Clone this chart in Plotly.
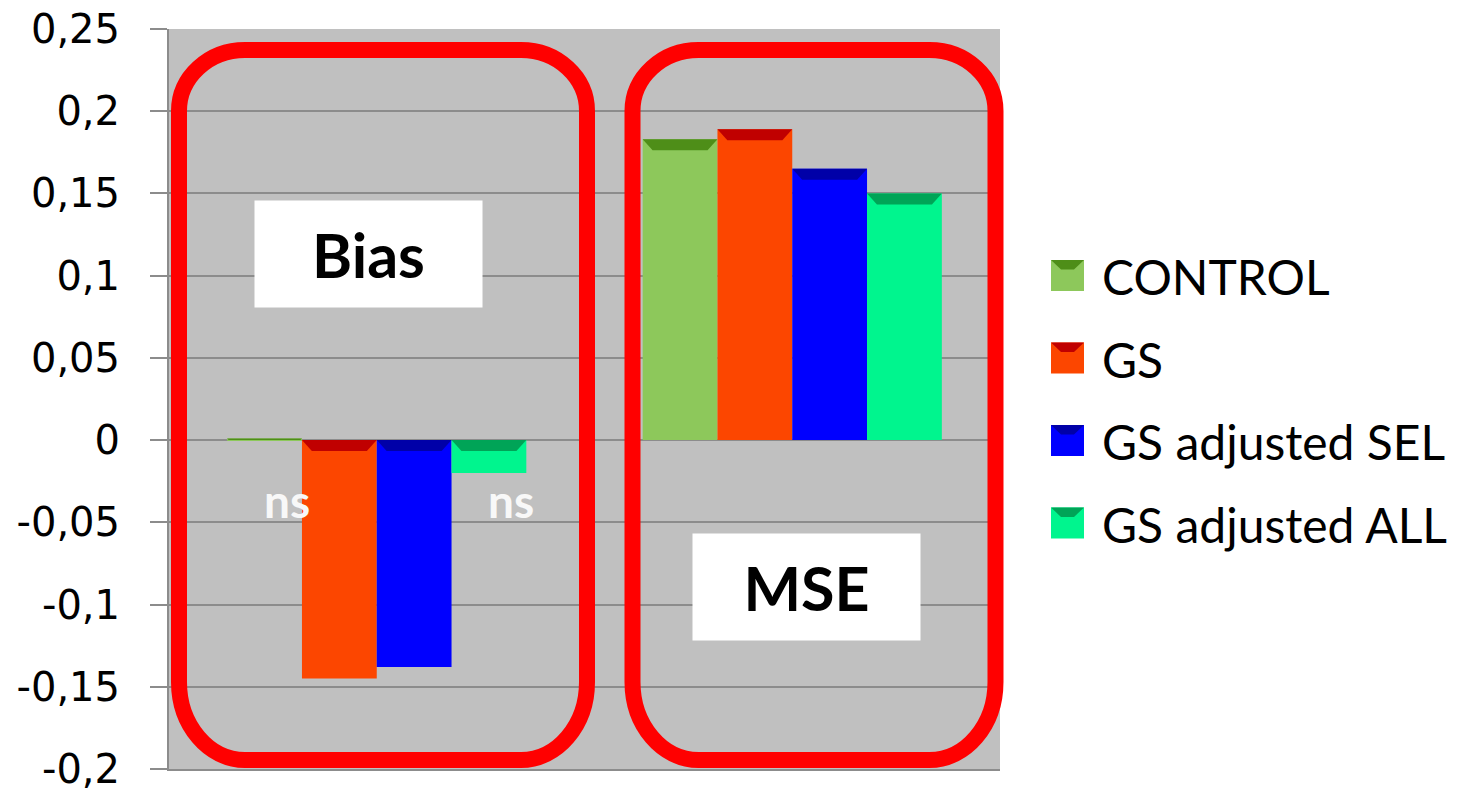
import plotly.graph_objects as go

# ---- data -------------------------------------------------------------
groups = ["Bias", "MSE"]
series_names = ["CONTROL", "GS", "GS adjusted SEL", "GS adjusted ALL"]
control_vals = [0.001, 0.183]
gs_vals = [-0.145, 0.189]
sel_vals = [-0.138, 0.165]
all_vals = [-0.020, 0.150]
ns_flags = [True, False, False, True]          # "ns" shown under Bias bars

tick_values = [0.25, 0.2, 0.15, 0.1, 0.05, 0, -0.05, -0.1, -0.15, -0.2]
tick_labels = ["0,25", "0,2", "0,15", "0,1", "0,05", "0", "-0,05", "-0,1", "-0,15", "-0,2"]

# ---- styling ----------------------------------------------------------
fill_colors = ["#8DC85B", "#FC4600", "#0000FF", "#00F58E"]
bevel_colors = ["#4E8E18", "#C00000", "#0000A8", "#00A457"]

W, H = 1484, 792
L, R, T, B = 169, 1000, 29, 769           # plot area in pixels
Y0, Y1 = -0.2, 0.25
X0, X1 = -0.5, 1.5
BARGAP = 0.28

series_vals = [control_vals, gs_vals, sel_vals, all_vals]
x_pos = list(range(len(groups)))


def px_x(px):
    return (px - L) / (R - L)


def px_y(py):
    return (B - py) / (B - T)


fig = go.Figure()
for name, vals, col in zip(series_names, series_vals, fill_colors):
    fig.add_trace(go.Bar(x=x_pos, y=vals, name=name, marker_color=col,
                         marker_line_width=0, showlegend=False))

shapes = []

# darker bevel strip along the upper edge of every bar
n = len(series_names)
bar_w = (1 - BARGAP) / n
band = 11 * (Y1 - Y0) / (B - T)
inset = 10 * (X1 - X0) / (R - L)
for i, (vals, dark) in enumerate(zip(series_vals, bevel_colors)):
    for g, v in zip(x_pos, vals):
        xa = g - (1 - BARGAP) / 2 + i * bar_w
        xb = xa + bar_w
        top = max(v, 0)
        h = min(band, abs(v))
        d = min(inset, h * 0.9 * (X1 - X0) / (R - L) * (B - T) / (Y1 - Y0))
        path = (f"M{xa},{top} L{xb},{top} L{xb - d},{top - h} "
                f"L{xa + d},{top - h} Z")
        shapes.append(dict(type="path", xref="x", yref="y", path=path,
                           fillcolor=dark, line_width=0, layer="above"))


def rounded_box(l, t, r, b, rxt, ryt, rxb, ryb):
    k = 0.5523
    pts = []

    def p(x, y):
        return f"{px_x(x):.5f},{px_y(y):.5f}"

    pts.append(f"M{p(l + rxt, t)}")
    pts.append(f"L{p(r - rxt, t)}")
    pts.append(f"C{p(r - rxt + k * rxt, t)} {p(r, t + ryt - k * ryt)} {p(r, t + ryt)}")
    pts.append(f"L{p(r, b - ryb)}")
    pts.append(f"C{p(r, b - ryb + k * ryb)} {p(r - rxb + k * rxb, b)} {p(r - rxb, b)}")
    pts.append(f"L{p(l + rxb, b)}")
    pts.append(f"C{p(l + rxb - k * rxb, b)} {p(l, b - ryb + k * ryb)} {p(l, b - ryb)}")
    pts.append(f"L{p(l, t + ryt)}")
    pts.append(f"C{p(l, t + ryt - k * ryt)} {p(l + rxt - k * rxt, t)} {p(l + rxt, t)}")
    pts.append("Z")
    return " ".join(pts)


for box in [(179, 50, 587, 760), (632.5, 50, 995.5, 760)]:
    shapes.append(dict(type="path", xref="paper", yref="paper",
                       path=rounded_box(*box, 66, 61, 66, 78),
                       line=dict(color="#FF0000", width=16), layer="above"))

annotations = []

# group captions in white boxes
for text, cx, cy in [("Bias", 368.5, 254), ("MSE", 806.5, 587)]:
    annotations.append(dict(text=f"<b>{text}</b>", xref="paper", yref="paper",
                            x=px_x(cx), y=px_y(cy), xanchor="center", yanchor="middle",
                            showarrow=False, bgcolor="white", width=227, height=106,
                            borderpad=0, font=dict(family="Lato", size=61, color="black")))

# "ns" markers below the non-significant Bias bars
for i, flag in enumerate(ns_flags):
    if flag:
        cx = x_pos[0] - (1 - BARGAP) / 2 + (i + 0.5) * bar_w
        annotations.append(dict(text="<b>ns</b>", x=cx, y=-0.037, xref="x", yref="y",
                                xshift=22, showarrow=False,
                                font=dict(family="Lato", size=46, color="#F8F8F8")))

# legend
leg_y0, leg_step = 275.5, 82.5
for i, (name, col, dark) in enumerate(zip(series_names, fill_colors, bevel_colors)):
    cy = leg_y0 + i * leg_step
    shapes.append(dict(type="rect", xref="paper", yref="paper",
                       x0=px_x(1051), x1=px_x(1084), y0=px_y(cy + 15.5), y1=px_y(cy - 15.5),
                       fillcolor=col, line_width=0))
    tri = (f"M{px_x(1051)},{px_y(cy - 15.5)} L{px_x(1084)},{px_y(cy - 15.5)} "
           f"L{px_x(1074)},{px_y(cy - 6)} L{px_x(1061)},{px_y(cy - 6)} Z")
    shapes.append(dict(type="path", xref="paper", yref="paper", path=tri,
                       fillcolor=dark, line_width=0))
    annotations.append(dict(text=name, xref="paper", yref="paper",
                            x=px_x(1100), y=px_y(cy + 1), xanchor="left", yanchor="middle",
                            showarrow=False,
                            font=dict(family="Lato", size=48, color="black")))

fig.update_layout(
    width=W, height=H,
    margin=dict(l=L, r=W - R, t=T, b=H - B, pad=0),
    paper_bgcolor="white", plot_bgcolor="#C0C0C0",
    barmode="group", bargap=BARGAP, bargroupgap=0,
    showlegend=False,
    shapes=shapes, annotations=annotations,
    xaxis=dict(range=[X0, X1], showticklabels=False, ticks="", showgrid=False,
               zeroline=False, showline=True, linecolor="#8C8C8C", linewidth=2,
               automargin=False, fixedrange=True),
    yaxis=dict(range=[Y0, Y1], tickvals=tick_values, ticktext=tick_labels,
               showgrid=True, gridcolor="#8C8C8C", gridwidth=2, zeroline=False,
               showline=True, linecolor="#8C8C8C", linewidth=2,
               ticks="outside", ticklen=17, tickwidth=2, tickcolor="#8C8C8C",
               ticklabelstandoff=22, automargin=False,
               tickfont=dict(family="DejaVu Sans", size=40, color="black"),
               fixedrange=True),
)

fig.write_html("out.html")
